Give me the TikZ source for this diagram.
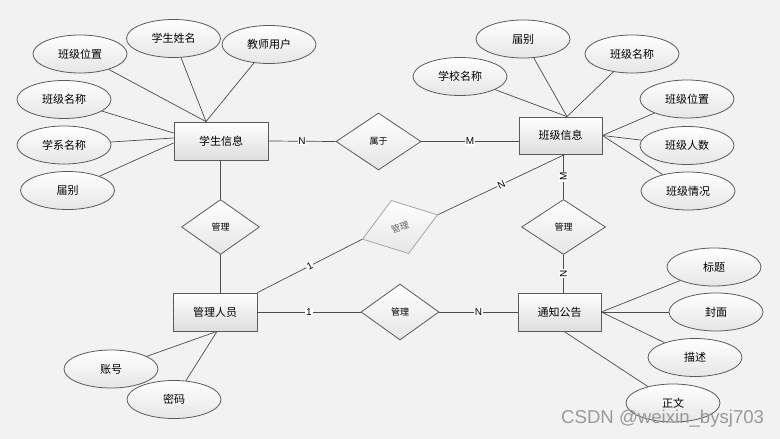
\documentclass[tikz,border=0pt]{standalone}
\usepackage{fontspec}
\newfontfamily\cjk{Noto Sans CJK SC}
\setmainfont{Liberation Sans}
\usetikzlibrary{shapes.geometric}
\definecolor{bg}{HTML}{F2F2F2}
\definecolor{edge}{HTML}{5A5A5A}
\begin{document}
\begin{tikzpicture}[x=1pt,y=-1pt,
 ent/.style={draw=edge, line width=0.8pt, rectangle, minimum width=84pt, minimum height=38pt, inner sep=0pt, top color=white, bottom color=black!13, font=\cjk\fontsize{11}{13}\selectfont},
 attr/.style={draw=edge, line width=0.8pt, ellipse, minimum width=94pt, minimum height=38pt, inner sep=0pt, top color=white, bottom color=black!10, font=\cjk\fontsize{11}{13}\selectfont},
 rel/.style={draw=edge, line width=0.8pt, diamond, minimum width=80pt, minimum height=55pt, inner sep=0pt, top color=white, bottom color=black!10, font=\cjk\fontsize{9}{11}\selectfont},
 link/.style={draw=black!70, line width=0.7pt},
 lab/.style={fill=white, inner sep=0.8pt, font=\fontsize{10}{12}\selectfont},
]
\fill[bg] (0,0) rectangle (780,439);
\useasboundingbox (0,0) rectangle (780,439);

% entities
\node[ent, minimum width=94pt] (xs) at (221,141) {学生信息};
\node[ent, minimum width=83pt, minimum height=37pt] (bj) at (560.5,135.5) {班级信息};
\node[ent] (gl) at (215,312) {管理人员};
\node[ent, minimum width=83pt] (tz) at (559.5,312) {通知公告};

% relations
\node[rel, minimum width=85pt, minimum height=57pt] (sy) at (378.5,141.5) {属于};
\node[rel, minimum width=78pt, minimum height=55pt] (m1) at (220.5,227) {管理};
\node[rel, minimum width=84pt, minimum height=55pt] (m2) at (563.5,227) {管理};
\node[rel, minimum width=78pt, minimum height=56pt] (m3) at (400,312) {管理};
\node[rel, draw=black!35, text=black!60, minimum width=79pt, minimum height=56pt, rotate=18] (m4) at (400,227) {管理};

% attributes left top
\node[attr] (b1) at (80,54) {班级位置};
\node[attr] (b2) at (173.5,38.5) {学生姓名};
\node[attr] (b3) at (269,44.5) {教师用户};
\node[attr] (b4) at (64,99.5) {班级名称};
\node[attr] (b5) at (64,145) {学系名称};
\node[attr] (b6) at (67.5,190.5) {届别};
% attributes right top
\node[attr] (c1) at (523,39) {届别};
\node[attr] (c2) at (460,76.5) {学校名称};
\node[attr] (c3) at (632,54) {班级名称};
\node[attr] (c4) at (687,99) {班级位置};
\node[attr] (c5) at (687,145.5) {班级人数};
\node[attr] (c6) at (688,191) {班级情况};
% attributes bottom right
\node[attr] (d1) at (714,267) {标题};
\node[attr] (d2) at (716,312) {封面};
\node[attr] (d3) at (695,357.5) {描述};
\node[attr] (d4) at (673,403) {正文};
% attributes bottom left
\node[attr] (e1) at (111,369) {账号};
\node[attr] (e2) at (174,399.5) {密码};

% attribute links
\coordinate (xsT) at ([xshift=-15pt]xs.north);
\draw[link] (b1) -- (xsT);
\draw[link] (b2) -- (xsT);
\draw[link] (b3) -- (xsT);
\draw[link] (b4) -- ([yshift=8pt]xs.west);
\draw[link] (b5) -- ([yshift=3pt]xs.west);
\draw[link] (b6) -- ([yshift=-2pt]xs.west);

\coordinate (bjT) at ([xshift=6.5pt]bj.north);
\draw[link] (c1) -- (bjT);
\draw[link] (c2) -- (bjT);
\draw[link] (c3) -- (bjT);
\draw[link] (c4) -- (bj.east);
\draw[link] (c5) -- (bj.east);
\draw[link] (c6) -- (bj.east);

\draw[link] (d1) -- (tz.east);
\draw[link] (d2) -- (tz.east);
\draw[link] (d3) -- (tz.east);
\draw[link] (d4) -- ([xshift=4.5pt]tz.south);

\coordinate (glB) at ([xshift=2pt]gl.south);
\draw[link] (e1) -- (glB);
\draw[link] (e2) -- (glB);

% relationship links
\draw[link] (xs.east) -- node[lab]{N} (sy.west);
\draw[link] (sy.east) -- node[lab]{M} (sy.east -| bj.west);
\draw[link] (xs.south -| m1.north) -- (m1.north);
\draw[link] (m1.south) -- (m1.south |- gl.north);
\draw[link] (m2.north |- bj.south) -- node[lab, rotate=90]{M} (m2.north);
\draw[link] (m2.south) -- node[lab, rotate=90]{N} (m2.south |- tz.north);
\draw[link] (gl.east) -- node[lab]{1} (m3.west);
\draw[link] (m3.east) -- node[lab]{N} (tz.west);
\draw[link] (gl.north east) -- node[lab, sloped]{1} (m4.west);
\draw[link] (m4.east) -- node[lab, sloped]{N} ([xshift=4.5pt]bj.south);

% watermark
\node[anchor=west, text=black!40, font=\fontsize{18.6}{20}\selectfont, inner sep=0pt] (wm) at (561,419) {CSDN @weixin\_bysj703};
\end{tikzpicture}
\end{document}
